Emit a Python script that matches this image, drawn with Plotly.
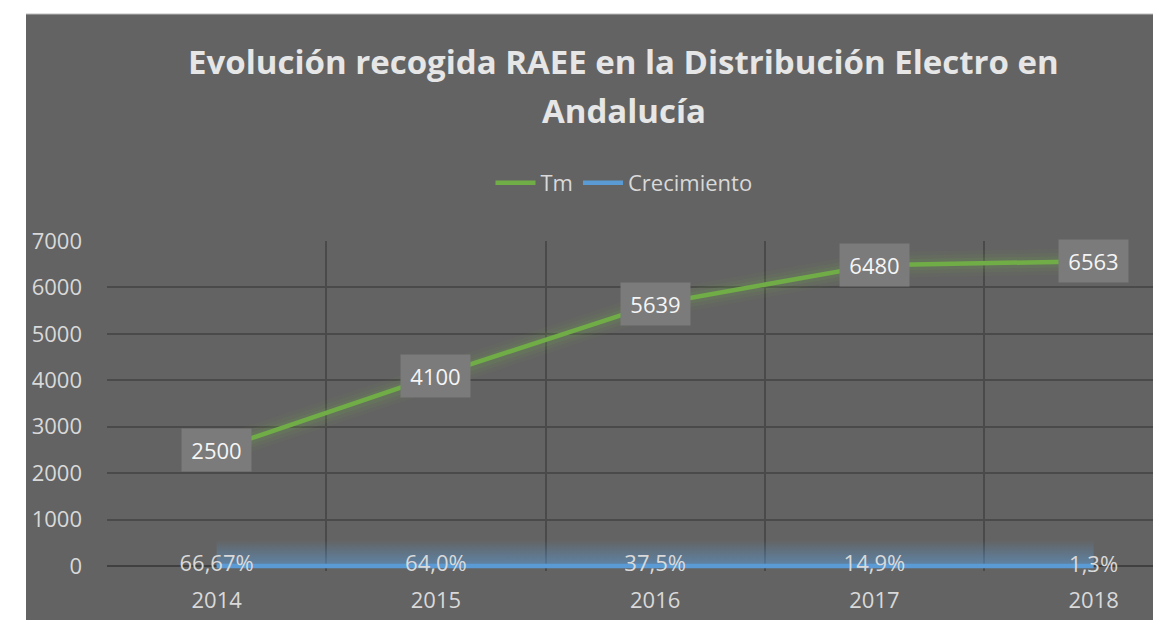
import plotly.graph_objects as go

years = ["2014", "2015", "2016", "2017", "2018"]
tm = [2500, 4100, 5639, 6480, 6563]
crecimiento = [0.6667, 0.640, 0.375, 0.149, 0.013]
crec_labels = ["66,67%", "64,0%", "37,5%", "14,9%", "1,3%"]
y_ticks = [0, 1000, 2000, 3000, 4000, 5000, 6000, 7000]
title_lines = ["Evolución recogida RAEE en la Distribución Electro en", "Andalucía"]

BG = "#636363"
GRID = "#4a4a4a"
TXT = "#d9d9d9"
GREEN = "#70ad47"
BLUE = "#5b9bd5"
FONT = "Open Sans"

W, H = 1169, 620
# page body adds an 8px offset; positions below are in figure pixels
TOP_PX, ZERO_PX, BOTTOM_PX = 233, 558, 563   # 7000 line, 0 line, plot-area bottom
L, R = 99, 24
T, B = TOP_PX, H - BOTTOM_PX
pw, ph = W - L - R, H - T - B
Y_MAX = 7000
Y_MIN = -(BOTTOM_PX - ZERO_PX) * Y_MAX / (ZERO_PX - TOP_PX)
CAT_W = 219.25


def px_x(fx):
    return (fx - L) / pw


def px_y(fy):
    return (BOTTOM_PX - fy) / ph


xi = list(range(len(years)))

fig = go.Figure()

# soft glow above the blue line
fig.add_trace(go.Scatter(x=xi, y=crecimiento, mode="lines", line=dict(width=0, color="rgba(0,0,0,0)"),
                         hoverinfo="skip", showlegend=False))
fig.add_trace(go.Scatter(x=xi, y=[v + 560 for v in crecimiento], mode="lines",
                         line=dict(width=0, color="rgba(0,0,0,0)"), fill="tonexty",
                         fillgradient=dict(type="vertical",
                                           colorscale=[[0, "rgba(91,155,213,0.6)"], [1, "rgba(91,155,213,0.0)"]]),
                         hoverinfo="skip", showlegend=False))

# soft glow around the green line
for w_, a_ in [(26, 0.06), (18, 0.08), (11, 0.12)]:
    fig.add_trace(go.Scatter(x=xi, y=tm, mode="lines", line=dict(color=f"rgba(112,173,71,{a_})", width=w_),
                             hoverinfo="skip", showlegend=False))

fig.add_trace(go.Scatter(x=xi, y=tm, mode="lines", name="Tm",
                         line=dict(color=GREEN, width=4.5)))
fig.add_trace(go.Scatter(x=xi, y=crecimiento, mode="lines+text", name="Crecimiento",
                         line=dict(color=BLUE, width=4.5), cliponaxis=False,
                         text=crec_labels, textposition="middle center",
                         textfont=dict(family=FONT, size=22, color=TXT)))

for x, v in zip(xi, tm):
    fig.add_annotation(x=x, y=v, text=str(v), showarrow=False,
                       font=dict(family=FONT, size=22, color="#f5f5f5"),
                       bgcolor="#7b7b7b", borderpad=0, width=69, height=42,
                       xanchor="center", yanchor="middle")

# title (two lines placed separately for spacing)
fig.add_annotation(xref="paper", yref="paper", x=px_x(615.5), y=px_y(53.5), text=f"<b>{title_lines[0]}</b>",
                   showarrow=False, xanchor="center", yanchor="middle",
                   font=dict(family=FONT, size=33, color="#e6e6e6"))
fig.add_annotation(xref="paper", yref="paper", x=px_x(615.5), y=px_y(102.5), text=f"<b>{title_lines[1]}</b>",
                   showarrow=False, xanchor="center", yanchor="middle",
                   font=dict(family=FONT, size=33, color="#e6e6e6"))

# gray chart background
fig.add_shape(type="rect", xref="paper", yref="paper",
              x0=px_x(18), x1=1.0, y0=px_y(H + 5), y1=px_y(6),
              fillcolor=BG, line=dict(width=0), layer="below")
fig.add_shape(type="line", xref="paper", yref="paper",
              x0=px_x(18), x1=1.0, y0=px_y(6), y1=px_y(6),
              line=dict(color="#bdbdbd", width=1), layer="below")

fig.update_layout(
    width=W, height=H,
    margin=dict(l=L, r=R, t=T, b=B, autoexpand=False),
    paper_bgcolor="#ffffff", plot_bgcolor=BG,
    legend=dict(orientation="h", x=px_x(616), xanchor="center", y=px_y(175), yanchor="middle",
                font=dict(family=FONT, size=22, color=TXT), bgcolor="rgba(0,0,0,0)",
                itemwidth=40, traceorder="normal"),
    showlegend=True,
)
fig.update_xaxes(range=[-0.5, pw / CAT_W - 0.5], tickvals=xi, ticktext=years, showgrid=False,
                 tickfont=dict(family=FONT, size=22, color=TXT), ticks="", ticklabelstandoff=14,
                 minor=dict(tickvals=[-0.5, 0.5, 1.5, 2.5, 3.5], showgrid=True, gridcolor=GRID, gridwidth=2),
                 zeroline=False, showline=False)
fig.update_yaxes(range=[Y_MIN, Y_MAX], tickvals=y_ticks, showgrid=True, gridcolor=GRID, gridwidth=2,
                 tickfont=dict(family=FONT, size=22, color=TXT), ticks="", ticklabelstandoff=24,
                 zeroline=True, zerolinecolor="#404040", zerolinewidth=2, showline=False)

fig.write_html("out.html")
